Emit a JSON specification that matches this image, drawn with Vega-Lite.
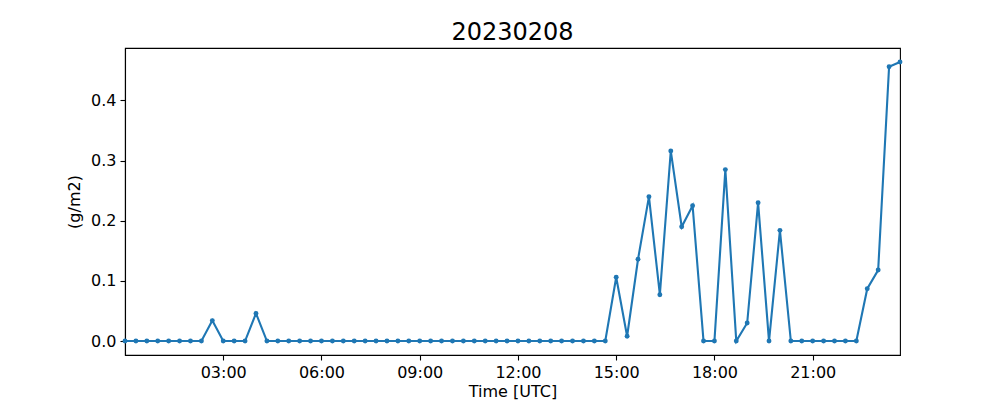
{
  "$schema": "https://vega.github.io/schema/vega-lite/v6.json",
  "autosize": {"type": "none"},
  "width": 775,
  "height": 307,
  "padding": {"left": 125, "top": 48, "right": 100, "bottom": 45},
  "background": "white",
  "title": {"text": "20230208", "font": "DejaVu Sans", "fontSize": 24, "fontWeight": "normal", "color": "black", "offset": 3},
  "config": {
    "view": {"stroke": "black", "strokeWidth": 1.1},
    "axis": {
      "labelFont": "DejaVu Sans", "labelFontSize": 16, "labelColor": "black",
      "titleFont": "DejaVu Sans", "titleFontSize": 16, "titleFontWeight": "normal", "titleColor": "black",
      "domainColor": "black", "domainWidth": 1.1, "tickColor": "black", "tickWidth": 1.1, "tickSize": 5,
      "labelPadding": 4, "grid": false
    }
  },
  "data": {"values": [
    {"time": "2023-02-08T00:00:00Z", "v": 0}, {"time": "2023-02-08T00:20:00Z", "v": 0}, {"time": "2023-02-08T00:40:00Z", "v": 0},
    {"time": "2023-02-08T01:00:00Z", "v": 0}, {"time": "2023-02-08T01:20:00Z", "v": 0}, {"time": "2023-02-08T01:40:00Z", "v": 0},
    {"time": "2023-02-08T02:00:00Z", "v": 0}, {"time": "2023-02-08T02:20:00Z", "v": 0}, {"time": "2023-02-08T02:40:00Z", "v": 0.034},
    {"time": "2023-02-08T03:00:00Z", "v": 0}, {"time": "2023-02-08T03:20:00Z", "v": 0}, {"time": "2023-02-08T03:40:00Z", "v": 0},
    {"time": "2023-02-08T04:00:00Z", "v": 0.046}, {"time": "2023-02-08T04:20:00Z", "v": 0}, {"time": "2023-02-08T04:40:00Z", "v": 0},
    {"time": "2023-02-08T05:00:00Z", "v": 0}, {"time": "2023-02-08T05:20:00Z", "v": 0}, {"time": "2023-02-08T05:40:00Z", "v": 0},
    {"time": "2023-02-08T06:00:00Z", "v": 0}, {"time": "2023-02-08T06:20:00Z", "v": 0}, {"time": "2023-02-08T06:40:00Z", "v": 0},
    {"time": "2023-02-08T07:00:00Z", "v": 0}, {"time": "2023-02-08T07:20:00Z", "v": 0}, {"time": "2023-02-08T07:40:00Z", "v": 0},
    {"time": "2023-02-08T08:00:00Z", "v": 0}, {"time": "2023-02-08T08:20:00Z", "v": 0}, {"time": "2023-02-08T08:40:00Z", "v": 0},
    {"time": "2023-02-08T09:00:00Z", "v": 0}, {"time": "2023-02-08T09:20:00Z", "v": 0}, {"time": "2023-02-08T09:40:00Z", "v": 0},
    {"time": "2023-02-08T10:00:00Z", "v": 0}, {"time": "2023-02-08T10:20:00Z", "v": 0}, {"time": "2023-02-08T10:40:00Z", "v": 0},
    {"time": "2023-02-08T11:00:00Z", "v": 0}, {"time": "2023-02-08T11:20:00Z", "v": 0}, {"time": "2023-02-08T11:40:00Z", "v": 0},
    {"time": "2023-02-08T12:00:00Z", "v": 0}, {"time": "2023-02-08T12:20:00Z", "v": 0}, {"time": "2023-02-08T12:40:00Z", "v": 0},
    {"time": "2023-02-08T13:00:00Z", "v": 0}, {"time": "2023-02-08T13:20:00Z", "v": 0}, {"time": "2023-02-08T13:40:00Z", "v": 0},
    {"time": "2023-02-08T14:00:00Z", "v": 0}, {"time": "2023-02-08T14:20:00Z", "v": 0}, {"time": "2023-02-08T14:40:00Z", "v": 0},
    {"time": "2023-02-08T15:00:00Z", "v": 0.106}, {"time": "2023-02-08T15:20:00Z", "v": 0.008}, {"time": "2023-02-08T15:40:00Z", "v": 0.136},
    {"time": "2023-02-08T16:00:00Z", "v": 0.240}, {"time": "2023-02-08T16:20:00Z", "v": 0.077}, {"time": "2023-02-08T16:40:00Z", "v": 0.316},
    {"time": "2023-02-08T17:00:00Z", "v": 0.190}, {"time": "2023-02-08T17:20:00Z", "v": 0.225}, {"time": "2023-02-08T17:40:00Z", "v": 0},
    {"time": "2023-02-08T18:00:00Z", "v": 0}, {"time": "2023-02-08T18:20:00Z", "v": 0.285}, {"time": "2023-02-08T18:40:00Z", "v": 0},
    {"time": "2023-02-08T19:00:00Z", "v": 0.030}, {"time": "2023-02-08T19:20:00Z", "v": 0.230}, {"time": "2023-02-08T19:40:00Z", "v": 0},
    {"time": "2023-02-08T20:00:00Z", "v": 0.184}, {"time": "2023-02-08T20:20:00Z", "v": 0}, {"time": "2023-02-08T20:40:00Z", "v": 0},
    {"time": "2023-02-08T21:00:00Z", "v": 0}, {"time": "2023-02-08T21:20:00Z", "v": 0}, {"time": "2023-02-08T21:40:00Z", "v": 0},
    {"time": "2023-02-08T22:00:00Z", "v": 0}, {"time": "2023-02-08T22:20:00Z", "v": 0}, {"time": "2023-02-08T22:40:00Z", "v": 0.087},
    {"time": "2023-02-08T23:00:00Z", "v": 0.118}, {"time": "2023-02-08T23:20:00Z", "v": 0.456}, {"time": "2023-02-08T23:40:00Z", "v": 0.464}
  ]},
  "mark": {"type": "line", "color": "#1f77b4", "strokeWidth": 2.1, "point": {"filled": true, "size": 24, "color": "#1f77b4"}},
  "encoding": {
    "x": {
      "field": "time", "type": "temporal",
      "scale": {"type": "utc", "domain": [1675814400000, 1675899600000], "nice": false},
      "axis": {"title": "Time [UTC]", "labelExpr": "utcFormat(datum.value, '%H:%M')", "titlePadding": 3,
        "values": [1675825200000, 1675836000000, 1675846800000, 1675857600000, 1675868400000, 1675879200000, 1675890000000]}
    },
    "y": {
      "field": "v", "type": "quantitative",
      "scale": {"domain": [-0.0232, 0.4872], "nice": false, "zero": false},
      "axis": {"title": "(g/m2)", "values": [0, 0.1, 0.2, 0.3, 0.4], "format": ".1f", "titlePadding": 8}
    }
  }
}
